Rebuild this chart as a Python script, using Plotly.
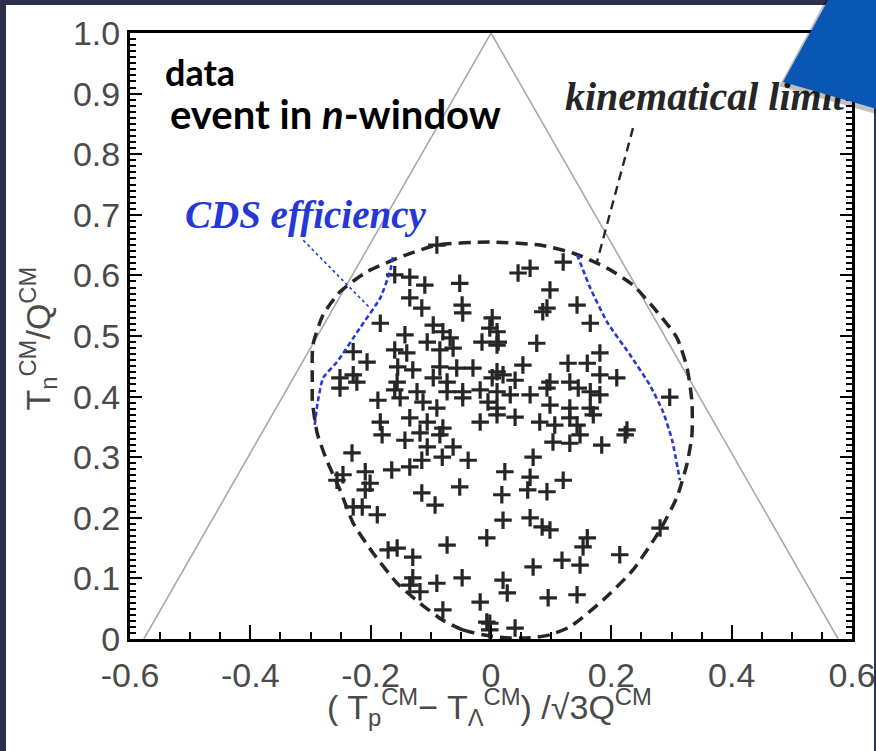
import plotly.graph_objects as go

# Dalitz-plot axes: x = (Tp - TL)/(sqrt3 Q), y = Tn/Q
x_ticks = [-0.6, -0.4, -0.2, 0.0, 0.2, 0.4, 0.6]
x_tick_text = ["-0.6", "-0.4", "-0.2", "0", "0.2", "0.4", "0.6"]
y_ticks = [0.0, 0.1, 0.2, 0.3, 0.4, 0.5, 0.6, 0.7, 0.8, 0.9, 1.0]
y_tick_text = ["0", "0.1", "0.2", "0.3", "0.4", "0.5", "0.6", "0.7", "0.8", "0.9", "1.0"]

# Kinematic triangle (edges of the Dalitz region for massless limit)
tri_x = [-0.577, 0.0, 0.577]
tri_y = [0.0, 1.0, 0.0]

# Kinematical limit contour
kin_x = [-0.013, -0.047, -0.080, -0.118, -0.156, -0.196, -0.229, -0.251, -0.273, -0.289,
         -0.297, -0.297, -0.296, -0.279, -0.251, -0.206, -0.151, -0.090, -0.002, 0.081,
         0.136, 0.193, 0.236, 0.276, 0.309, 0.326, 0.334, 0.334, 0.326, 0.309,
         0.281, 0.236, 0.186, 0.131, 0.098, 0.065, 0.023, -0.013]
kin_y = [0.007, 0.015, 0.031, 0.059, 0.092, 0.142, 0.191, 0.246, 0.295, 0.340,
         0.394, 0.419, 0.485, 0.535, 0.573, 0.606, 0.630, 0.650, 0.655, 0.650,
         0.637, 0.612, 0.584, 0.540, 0.497, 0.447, 0.391, 0.337, 0.290, 0.234,
         0.180, 0.114, 0.064, 0.020, 0.007, 0.002, 0.002, 0.007]

# CDS acceptance edges
cds_left_x = [-0.163, -0.168, -0.184, -0.218, -0.256, -0.279, -0.288, -0.293]
cds_left_y = [0.630, 0.606, 0.563, 0.513, 0.457, 0.431, 0.391, 0.353]
cds_right_x = [0.143, 0.153, 0.165, 0.193, 0.231, 0.264, 0.286, 0.301, 0.314]
cds_right_y = [0.634, 0.609, 0.579, 0.523, 0.469, 0.419, 0.375, 0.328, 0.262]

# Label pointer lines
kin_ptr_x = [0.236, 0.176]
kin_ptr_y = [0.843, 0.622]
cds_ptr_x = [-0.312, -0.201]
cds_ptr_y = [0.658, 0.546]

# Events in the neutron window
ev_x = [-0.090, -0.160, -0.135, -0.110, -0.052, -0.135, -0.115, -0.048, -0.047, -0.184,
        -0.096, -0.080, 0.002, -0.002, -0.143, -0.106, -0.068, -0.015, -0.160, -0.140,
        -0.085, -0.063, 0.010, -0.229, -0.206, -0.155, -0.130, -0.085, -0.057, -0.030,
        -0.251, -0.229, -0.223, -0.156, -0.096, -0.073, 0.002, -0.251, -0.160, -0.123,
        -0.073, -0.047, -0.018, -0.188, -0.151, -0.113, -0.090, -0.047, -0.005, -0.184,
        -0.135, -0.106, -0.080, -0.018, 0.010,
        0.120, 0.045, 0.065, 0.098, 0.093, 0.086, 0.143, 0.165, 0.010, 0.012,
        0.076, 0.181, 0.128, 0.160, 0.053, 0.181, 0.209, 0.010, 0.020, 0.040,
        0.098, 0.131, 0.145, 0.165, 0.010, 0.032, 0.065, 0.093, 0.181, 0.297,
        0.131, 0.165, 0.098, 0.010, 0.040, 0.131, 0.143, 0.081, 0.106, 0.170,
        0.226,
        0.103, 0.131, 0.148, 0.184, 0.223, 0.070, 0.023, 0.065, 0.061, 0.093,
        0.120, 0.018, 0.020, 0.065, 0.085, 0.098, 0.160, 0.153, 0.118, 0.148,
        0.214, 0.070, 0.020, 0.027, 0.095, 0.143, 0.281, 0.040, -0.002,
        -0.181, -0.143, -0.118, -0.085, -0.106, -0.063, -0.231, -0.115, -0.081, -0.038,
        -0.165, -0.135, -0.209, -0.246, -0.201, -0.209, -0.256, -0.115, -0.093, -0.052,
        -0.229, -0.214, -0.189, -0.007, -0.073, -0.171, -0.156, -0.130, -0.130, -0.090,
        -0.118, -0.048, -0.135, -0.018, -0.080, -0.007, -0.002]
ev_y = [0.650, 0.601, 0.597, 0.584, 0.587, 0.563, 0.546, 0.551, 0.538, 0.521,
        0.518, 0.507, 0.530, 0.513, 0.502, 0.490, 0.497, 0.490, 0.477, 0.472,
        0.477, 0.480, 0.485, 0.474, 0.457, 0.449, 0.444, 0.449, 0.447, 0.447,
        0.431, 0.436, 0.424, 0.424, 0.431, 0.424, 0.431, 0.414, 0.411, 0.408,
        0.408, 0.408, 0.411, 0.394, 0.398, 0.391, 0.381, 0.398, 0.391, 0.358,
        0.365, 0.358, 0.348, 0.358, 0.370,
        0.622, 0.604, 0.612, 0.576, 0.546, 0.540, 0.551, 0.521, 0.507, 0.490,
        0.488, 0.472, 0.455, 0.455, 0.452, 0.436, 0.431, 0.441, 0.436, 0.427,
        0.424, 0.424, 0.414, 0.408, 0.408, 0.403, 0.403, 0.414, 0.403, 0.399,
        0.381, 0.381, 0.386, 0.381, 0.366, 0.365, 0.353, 0.358, 0.353, 0.370,
        0.345,
        0.325, 0.323, 0.337, 0.320, 0.337, 0.300, 0.276, 0.267, 0.246, 0.243,
        0.262, 0.238, 0.196, 0.200, 0.185, 0.180, 0.167, 0.152, 0.130, 0.122,
        0.139, 0.119, 0.097, 0.076, 0.068, 0.073, 0.183, 0.018, 0.026,
        0.337, 0.328, 0.340, 0.337, 0.317, 0.317, 0.307, 0.295, 0.300, 0.295,
        0.279, 0.284, 0.276, 0.271, 0.257, 0.246, 0.262, 0.241, 0.221, 0.251,
        0.218, 0.218, 0.205, 0.167, 0.155, 0.147, 0.150, 0.135, 0.101, 0.092,
        0.078, 0.101, 0.089, 0.061, 0.048, 0.028, 0.015]

AXIS_FONT = dict(family="Liberation Sans, Arial, sans-serif", size=34, color="#4a4a4a")
TITLE_FONT = dict(family="Liberation Sans, Arial, sans-serif", size=34, color="#4a4a4a")
INK = "#262626"
CDS_BLUE = "#2438d8"
NAVY = "#2d2f4d"

fig = go.Figure()

fig.add_trace(go.Scatter(x=tri_x, y=tri_y, mode="lines",
                         line=dict(color="#a9a9a9", width=1.6), hoverinfo="skip"))
fig.add_trace(go.Scatter(x=ev_x, y=ev_y, mode="markers",
                         marker=dict(symbol="cross-thin", size=12.5,
                                     line=dict(color=INK, width=3.2)),
                         hoverinfo="skip"))
fig.add_trace(go.Scatter(x=kin_x, y=kin_y, mode="lines",
                         line=dict(color=INK, width=3.5, dash="12px,7px", shape="spline",
                                   smoothing=0.6),
                         hoverinfo="skip"))
fig.add_trace(go.Scatter(x=cds_left_x, y=cds_left_y, mode="lines",
                         line=dict(color=CDS_BLUE, width=2.6, dash="5px,3px", shape="spline",
                                   smoothing=0.5),
                         hoverinfo="skip"))
fig.add_trace(go.Scatter(x=cds_right_x, y=cds_right_y, mode="lines",
                         line=dict(color=CDS_BLUE, width=2.6, dash="5px,3px", shape="spline",
                                   smoothing=0.5),
                         hoverinfo="skip"))
fig.add_trace(go.Scatter(x=kin_ptr_x, y=kin_ptr_y, mode="lines",
                         line=dict(color=INK, width=2.4, dash="9px,6px"), hoverinfo="skip"))
fig.add_trace(go.Scatter(x=cds_ptr_x, y=cds_ptr_y, mode="lines",
                         line=dict(color=CDS_BLUE, width=1.6, dash="3px,3px"), hoverinfo="skip"))
# label sits beneath the corner decoration
fig.add_trace(go.Scatter(x=[0.123], y=[0.889], mode="text",
                         text=["<b><i>kinematical limit</i></b>"], textposition="middle right",
                         textfont=dict(family="Liberation Serif, Times New Roman, serif",
                                       size=40, color="#262626"),
                         cliponaxis=False, hoverinfo="skip"))

fig.update_layout(
    width=876, height=751,
    margin=dict(l=130, r=24, t=33, b=112),
    paper_bgcolor=NAVY,
    plot_bgcolor="white",
    showlegend=False,
    xaxis=dict(range=[-0.6, 0.6], tickvals=x_ticks, ticktext=x_tick_text,
               automargin=False,
               ticks="inside", ticklen=14, tickwidth=2, tickcolor="black",
               showline=True, linecolor="black", linewidth=3, mirror=True,
               showgrid=False, zeroline=False, tickfont=AXIS_FONT, ticklabelstandoff=4,
               minor=dict(dtick=0.05, tick0=0, ticks="inside", ticklen=7,
                          tickwidth=2, tickcolor="black", showgrid=False)),
    yaxis=dict(range=[0, 1.0], tickvals=y_ticks, ticktext=y_tick_text,
               automargin=False,
               ticks="inside", ticklen=12, tickwidth=2, tickcolor="black",
               showline=True, linecolor="black", linewidth=3, mirror="ticks",
               showgrid=False, zeroline=False, tickfont=AXIS_FONT,
               minor=dict(dtick=0.01, tick0=0, ticks="inside", ticklen=6,
                          tickwidth=1.5, tickcolor="black", showgrid=False)),
    shapes=[
        dict(type="rect", xref="paper", yref="paper", layer="below",
             x0=-0.1717, x1=1.2, y0=-0.2, y1=1.046,
             fillcolor="white", line=dict(width=0)),
        dict(type="rect", xref="paper", yref="paper", layer="above",
             x0=1.0305, x1=1.2, y0=-0.2, y1=1.1,
             fillcolor=NAVY, line=dict(width=0)),
        dict(type="path", xref="paper", yref="paper", layer="above",
             path="M 0.966,1.06 L 0.899,0.912 L 1.04,0.864 L 1.04,1.06 Z",
             fillcolor="rgba(0,0,0,0.25)", line=dict(width=0)),
        dict(type="path", xref="paper", yref="paper", layer="above",
             path="M 0.9695,1.06 L 0.9044,0.9191 L 1.04,0.8729 L 1.04,1.06 Z",
             fillcolor="#0a56b4", line=dict(width=0)),
    ],
    annotations=[
        dict(xref="paper", yref="paper", x=0.0457, y=0.935, xanchor="left", yanchor="middle",
             text="<b>data</b>", showarrow=False,
             font=dict(family="Lato, Open Sans, sans-serif", size=36, color="black")),
        dict(xref="paper", yref="paper", x=0.0526, y=0.866, xanchor="left", yanchor="middle",
             text="<b>event in <i>n</i>-window</b>", showarrow=False,
             font=dict(family="Lato, Open Sans, sans-serif", size=40, color="black")),
        dict(xref="paper", yref="paper", x=0.0734, y=0.6997, xanchor="left", yanchor="middle",
             text="<b><i>CDS efficiency</i></b>", showarrow=False,
             font=dict(family="Liberation Serif, Times New Roman, serif", size=39,
                       color=CDS_BLUE)),
        dict(xref="paper", yref="paper", x=0.4986, y=-0.112, xanchor="center", yanchor="middle",
             text="( T<sub>p</sub><sup>CM</sup>− T<sub>Λ</sub><sup>CM</sup>) /√3Q<sup>CM</sup>",
             showarrow=False, font=TITLE_FONT),
        dict(xref="paper", yref="paper", x=-0.128, y=0.495, xanchor="center", yanchor="middle",
             text="T<sub>n</sub><sup>CM</sup>/Q<sup>CM</sup>", textangle=-90,
             showarrow=False, font=TITLE_FONT),
    ],
)

fig.write_html("out.html")
